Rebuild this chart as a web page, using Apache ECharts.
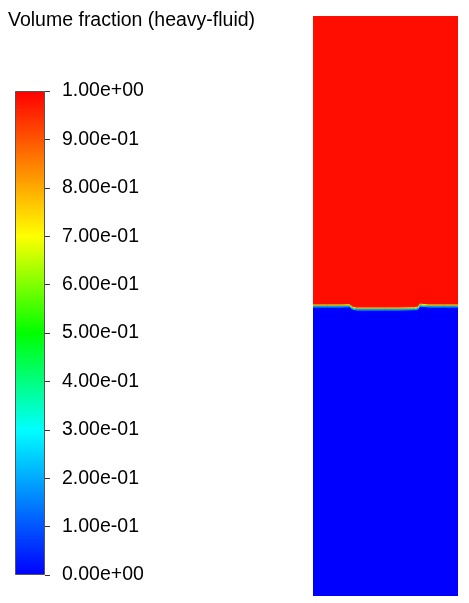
<!DOCTYPE html>
<html>
<head>
<meta charset="utf-8">
<script src="https://cdn.jsdelivr.net/npm/echarts@6/dist/echarts.min.js"></script>
<style>
  html, body { margin: 0; padding: 0; background: #fff; }
  #chart { width: 469px; height: 603px; }
</style>
</head>
<body>
<div id="chart"></div>
<script>
// colour scale (value -> colour) of the legend
var scaleValues = [0, 0.3, 0.5, 0.7, 1.0]
var scaleColors = ['#0000ff', '#00ffff', '#00ff00', '#ffff00', '#ff0000']
var tickLabels = ['0.00e+00', '1.00e-01', '2.00e-01', '3.00e-01', '4.00e-01', '5.00e-01',
                  '6.00e-01', '7.00e-01', '8.00e-01', '9.00e-01', '1.00e+00']

// interface between heavy fluid (top) and light fluid (bottom), domain 1 x 4
var interfaceX = [0, 0.1, 0.2, 0.25, 0.262, 0.275, 0.3, 0.4, 0.5, 0.6, 0.7, 0.725, 0.738, 0.75, 0.8, 0.9, 1.0]
var interfaceY = [2.0, 2.0, 2.0, 2.002, 2.006, 1.984, 1.979, 1.979, 1.979, 1.979, 1.981, 1.986, 2.006, 2.003, 2.0, 2.0, 2.0]

var chart = echarts.init(document.getElementById('chart'))

var profile = interfaceX.map(function (x, i) { return [x, interfaceY[i]] })
var px = 4 / 580 // one pixel in domain units
function shifted(d) { return profile.map(function (p) { return [p[0], p[1] + d] }) }

var gradStops = scaleValues.map(function (v, i) { return { offset: v, color: scaleColors[i] } })

function bandLine(name, data, color) {
  return {
    name: name, type: 'line', xAxisIndex: 1, yAxisIndex: 1,
    data: data, showSymbol: false, silent: true,
    lineStyle: { color: color, width: 1 }
  }
}

var option = {
  animation: false,
  title: {
    text: 'Volume fraction (heavy-fluid)',
    left: 8, top: 11, padding: 0,
    textStyle: { fontFamily: 'Liberation Sans', fontSize: 19.5, fontWeight: 'normal', color: '#000' }
  },
  grid: [
    { left: 15, top: 91, width: 30, height: 484 },
    { left: 313, top: 16, width: 145, height: 580 }
  ],
  xAxis: [
    { gridIndex: 0, type: 'category', data: ['bar'], show: false },
    { gridIndex: 1, type: 'value', min: 0, max: 1, show: false }
  ],
  yAxis: [
    {
      gridIndex: 0, type: 'value', min: 0, max: 1, interval: 0.1, position: 'right',
      axisLine: { show: false },
      splitLine: { show: false },
      axisTick: { show: true, length: 5, lineStyle: { color: '#333' } },
      axisLabel: {
        margin: 17, fontFamily: 'Liberation Sans', fontSize: 19.5, color: '#000',
        padding: [2, 0, 0, 0],
        formatter: function (v) { return tickLabels[Math.round(v * 10)] }
      }
    },
    { gridIndex: 1, type: 'value', min: 0, max: 4, show: false }
  ],
  series: [
    {
      name: 'legend', type: 'bar', xAxisIndex: 0, yAxisIndex: 0,
      data: [scaleValues[scaleValues.length - 1]], barWidth: '100%', silent: true,
      itemStyle: {
        color: new echarts.graphic.LinearGradient(0, 1, 0, 0, gradStops),
        borderColor: '#555', borderWidth: 1
      }
    },
    {
      name: 'light', type: 'line', xAxisIndex: 1, yAxisIndex: 1,
      data: profile, showSymbol: false, silent: true,
      lineStyle: { width: 0 },
      areaStyle: { color: '#0000ff', opacity: 1, origin: 'start' }
    },
    {
      name: 'heavy', type: 'line', xAxisIndex: 1, yAxisIndex: 1,
      data: profile, showSymbol: false, silent: true,
      lineStyle: { width: 0 },
      areaStyle: { color: '#ff0d00', opacity: 1, origin: 'end' }
    },
    bandLine('band-yellow', shifted(px), '#ffee00'),
    bandLine('band-green', shifted(0), '#33ff44'),
    bandLine('band-cyan', shifted(-px), '#00bbff')
  ]
}

chart.setOption(option)
</script>
</body>
</html>
